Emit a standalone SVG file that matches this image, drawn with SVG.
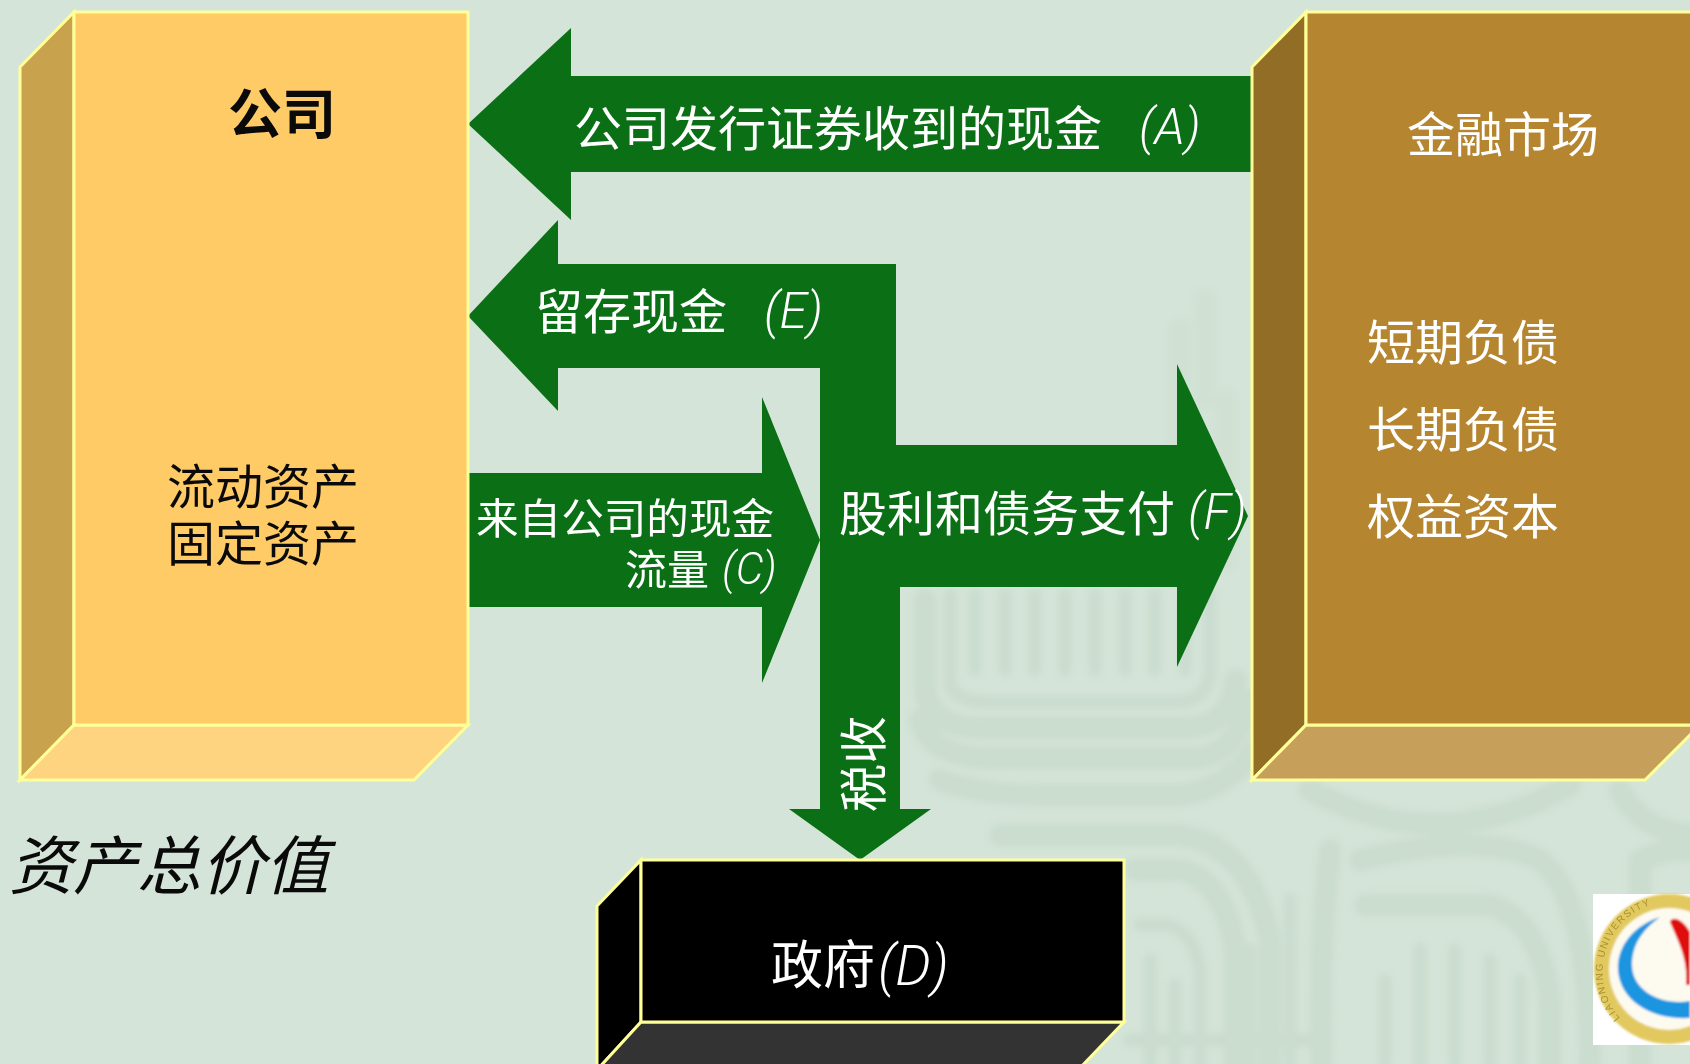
<svg xmlns="http://www.w3.org/2000/svg" width="1690" height="1064" viewBox="0 0 1690 1064">
<style>
text{font-family:"Noto Sans CJK SC","Noto Sans",sans-serif;font-size:48px}
.w{fill:#fff}.k{fill:#0a0a0a}
.l{font-family:"Liberation Sans Narrow","Roboto","Liberation Sans",sans-serif;font-style:italic;font-weight:300}
.edge{stroke:#ffff99;stroke-width:3;stroke-linejoin:miter}
.arrow{fill:#0b6f15}
.wm{fill:none;stroke:#c3d8c9;stroke-linecap:round;stroke-linejoin:round}
.b1{stroke-width:22}.b2{stroke-width:13}
</style>
<defs>
<filter id="soft" x="-5%" y="-5%" width="110%" height="110%"><feGaussianBlur stdDeviation="3"/></filter>
<filter id="soft2" x="-5%" y="-5%" width="110%" height="110%"><feGaussianBlur stdDeviation="1"/></filter>
<path id="ring" d="M1620 1018A66 68 0 1 1 1720 925"/>
</defs>
<rect id="background" width="1690" height="1064" fill="#d4e4d8"/>
<g id="watermark" filter="url(#soft)">
<g opacity=".22"><path class="wm b1" d="M1130 470V560M1075 500V570M1180 330V470M1225 400V560M1205 300V400"/></g>
<g opacity=".55">
<path class="wm b2" d="M950 595V680Q950 700 985 702H1180Q1208 700 1210 670V595M975 595V670M1005 595V670M1035 595V670M1065 595V670M1095 595V670M1125 595V670M1155 595V670M1185 595V670"/>
<path class="wm b1" d="M925 600V690Q930 725 975 728H1190Q1230 725 1236 680M920 720Q930 755 985 758H1200Q1240 750 1248 700M940 780Q980 795 1040 795H1180Q1230 790 1262 740"/>
<path class="wm b1" d="M1310 790Q1440 860 1570 785M1620 790Q1640 830 1690 835"/>
<path class="wm b1" d="M1000 835H1180Q1250 845 1270 940V1064M1135 870H1180Q1225 880 1235 950V1064"/>
<path class="wm b1" d="M1322 1064Q1318 950 1330 850M1360 860Q1480 830 1540 860Q1590 900 1590 1064M1365 905H1490Q1540 920 1550 1000V1064M1640 1064V860Q1660 850 1690 850"/>
<path class="wm b2" d="M1140 925H1170Q1195 935 1200 970V1064M1150 960V1064M1175 985V1064M1385 980V1064M1420 950V1064M1455 950V1064M1490 960V1064M1520 980V1064M1290 900V1064M1250 950V1064"/>
<path class="wm b2" d="M1130 1040H1320"/>
</g>
</g>
<g id="connectors">
<path id="arrow-a" class="arrow" d="M468 124L571 28V76H1251V172H571V220Z"/>
<path id="arrow-c" class="arrow" d="M468 473H762V397L820 540L762 683V607H468Z"/>
<path id="arrow-efd" class="arrow" d="M468 316L558 220V264H896V445H1177V364L1248 516L1177 667V587H900V809H931L860 860L789 809H820V368H558V411Z"/>
</g>
<g id="company">
<path class="edge" fill="#c9a24e" d="M74 12L20 67V780L74 725Z"/>
<path class="edge" fill="#ffd480" d="M74 725H468L414 780H20Z"/>
<path class="edge" fill="#ffcb66" d="M74 12H468V725H74Z"/>
<text class="k" x="228" y="134" font-weight="700" style="font-size:54px">公司</text>
<text class="k" x="167" y="504">流动资产</text>
<text class="k" x="167" y="561">固定资产</text>
</g>
<g id="market">
<path class="edge" fill="#926d26" d="M1306 12L1252 67V780L1306 725Z"/>
<path class="edge" fill="#c69f5b" d="M1306 725H1700L1645 780H1252Z"/>
<path class="edge" fill="#b68530" d="M1306 12H1700V725H1306Z"/>
<text class="w" x="1407" y="152">金融市场</text>
<text class="w" x="1367" y="360">短期负债</text>
<text class="w" x="1367" y="447">长期负债</text>
<text class="w" x="1367" y="534">权益资本</text>
</g>
<g id="government">
<path class="edge" fill="#000" d="M641 860L597 906V1070L641 1022Z"/>
<path class="edge" fill="#333" d="M641 1022H1124L1078 1070H597Z"/>
<path class="edge" fill="#000" d="M641 860H1124V1022H641Z"/>
<text class="w" x="771" y="984" style="font-size:52px">政府</text>
<text class="w l" x="878" y="985" style="font-size:56px">(D)</text>
</g>
<g id="labels">
<text class="w" x="574" y="146">公司发行证券收到的现金</text>
<text class="w l" x="1139" y="144" style="font-size:50px">(A)</text>
<text class="w" x="535" y="329">留存现金</text>
<text class="w l" x="764" y="328" style="font-size:50px">(E)</text>
<text class="w" x="476" y="534" style="font-size:42.6px">来自公司的现金</text>
<text class="w" x="625" y="585" style="font-size:42px">流量</text>
<text class="w l" x="722" y="584" style="font-size:44px">(C)</text>
<text class="w" x="839" y="531">股利和债务支付</text>
<text class="w l" x="1188" y="529" style="font-size:50px">(F)</text>
<text class="w" transform="translate(881 812) rotate(-90)">税收</text>
<text class="k" x="9" y="889" style="font-size:64px;font-style:italic">资产总价值</text>
</g>
<g id="logo">
<rect x="1593" y="894" width="97" height="151" fill="#fff"/>
<g filter="url(#soft2)">
<ellipse cx="1669" cy="969" rx="75" ry="75" fill="#e2c95f"/>
<ellipse cx="1669" cy="969" rx="60" ry="61" fill="#fdfaf0"/>
<path fill="#1b95e0" d="M1660 917C1635 925 1617 945 1618 970C1620 1000 1650 1020 1690 1018V1001C1660 1006 1632 990 1632 965C1632 945 1642 930 1660 917Z"/>
<path fill="#e00b0b" d="M1670 922C1672 916 1682 918 1690 932V985H1686C1688 960 1680 945 1670 922Z"/>
</g>
<text fill="#a8922f" style="font-size:10px;font-family:'Liberation Sans',sans-serif;letter-spacing:1.5px"><textPath href="#ring">LIAONING UNIVERSITY</textPath></text>
</g>
</svg>
